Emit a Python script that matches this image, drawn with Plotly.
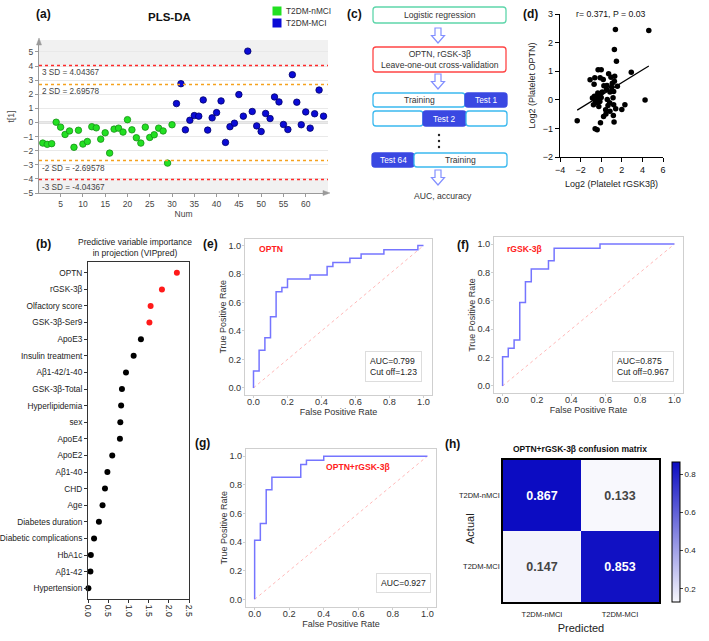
import plotly.graph_objects as go

W, H = 709, 641
FONT = "Arial, Liberation Sans, sans-serif"


def fx(x):
    return x / W


def fy(y):
    return 1 - y / H


def dx(x0, x1):
    return [x0 / W, x1 / W]


def dy(y0, y1):
    return [1 - y1 / H, 1 - y0 / H]


# ---------------- data ----------------
# (a) PLS-DA scores
pls_num_nmci = list(range(1, 31))
pls_t1_nmci = [-1.46, -1.55, -1.50, 0.02, -0.33, -0.85, -0.60, -1.76, -0.55, -1.53,
               -1.35, -0.30, -0.38, -1.18, -0.73, -2.17, -0.47, -0.40, -0.68, 0.20,
               -0.52, -1.08, -1.46, -0.33, -1.06, -0.87, -0.40, -0.60, -2.88, -0.16]
pls_num_mci = list(range(31, 65))
pls_t1_mci = [1.34, 2.75, -0.52, 0.16, 0.49, 0.45, 1.60, -0.54, 0.33, 0.70,
              1.53, -1.41, -0.30, -0.05, 1.98, 0.45, 5.06, 0.78, -0.24, -0.64,
              0.64, 0.28, 1.81, 1.46, -0.14, -0.50, 3.39, 1.44, -0.16, 0.75,
              -0.40, 0.62, 2.30, 0.45]
sd2_val = 2.69578
sd3_val = 4.04367
pls_xticks = [5, 10, 15, 20, 25, 30, 35, 40, 45, 50, 55, 60]
pls_yticks = [-5, -4, -3, -2, -1, 0, 1, 2, 3, 4, 5]

# (b) VIP
vip_vars = ["OPTN", "rGSK-3β", "Olfactory score", "GSK-3β-Ser9", "ApoE3",
            "Insulin treatment", "Aβ1-42/1-40", "GSK-3β-Total", "Hyperlipidemia", "sex",
            "ApoE4", "ApoE2", "Aβ1-40", "CHD", "Age", "Diabetes duration",
            "Diabetic complications", "HbA1c", "Aβ1-42", "Hypertension"]
vip_vals = [2.20, 1.83, 1.55, 1.52, 1.31, 1.13, 0.94, 0.84, 0.82, 0.80,
            0.79, 0.60, 0.48, 0.42, 0.36, 0.27, 0.15, 0.07, 0.06, 0.01]
vip_threshold = 1.5
vip_xticks = [0.0, 0.5, 1.0, 1.5, 2.0, 2.5]

# (d) correlation scatter
corr_x = [1.38, 4.62, 1.28, 1.48, -0.30, 0.00, -1.08, -0.62, -0.69, -0.10,
          0.20, 0.72, 1.31, 2.92, 1.08, 1.28, 1.02, 1.57, 0.52, 0.26,
          0.85, 1.21, -0.43, -0.66, -0.26, -0.13, 0.00, -0.36, -0.75, -0.56,
          -0.13, 0.82, 1.15, 1.21, 0.59, 2.30, 2.00, 4.26, -2.33, -0.59,
          -0.39, -0.07, 1.25, 1.18, 0.46, 0.23, -0.23, 0.43, 0.85, 1.41,
          0.66, 0.10, 0.56, 0.95, -0.85, -0.33]
corr_y = [2.46, 2.42, 1.76, 1.35, 1.05, 1.05, 0.70, 0.77, 0.54, 0.77,
          0.71, 0.91, 0.82, 0.96, 0.58, 0.65, 0.44, 0.47, 0.36, 0.49,
          0.27, 0.29, 0.13, 0.12, 0.03, 0.15, 0.08, -0.10, -0.17, -0.06,
          -0.06, -0.10, 0.07, -0.17, 0.01, -0.17, -0.34, -0.01, -0.73, -1.01,
          -1.05, -0.80, -0.78, -0.55, -0.50, -0.58, -0.23, -0.35, -0.40, -0.31,
          -0.20, 0.27, 0.50, 0.79, 0.06, 0.24]
fit_slope = 0.222
fit_intercept = 0.156

# (e)-(g) ROC curves
roc_optn_fpr = [0, 0, 0.033, 0.033, 0.067, 0.067, 0.1, 0.1, 0.133, 0.133, 0.167, 0.167,
                0.2, 0.2, 0.333, 0.333, 0.433, 0.433, 0.467, 0.467, 0.567, 0.567,
                0.633, 0.633, 0.767, 0.767, 0.967, 0.967, 1.0]
roc_optn_tpr = [0, 0.118, 0.118, 0.265, 0.265, 0.353, 0.353, 0.5, 0.5, 0.676, 0.676, 0.706,
                0.706, 0.765, 0.765, 0.794, 0.794, 0.853, 0.853, 0.882, 0.882, 0.912,
                0.912, 0.941, 0.941, 0.971, 0.971, 1.0, 1.0]
roc_rgsk_fpr = [0, 0, 0.033, 0.033, 0.067, 0.067, 0.1, 0.1, 0.133, 0.133, 0.167, 0.167,
                0.267, 0.267, 0.3, 0.3, 0.567, 0.567, 1.0]
roc_rgsk_tpr = [0, 0.206, 0.206, 0.265, 0.265, 0.324, 0.324, 0.588, 0.588, 0.735, 0.735,
                0.824, 0.824, 0.882, 0.882, 0.971, 0.971, 1.0, 1.0]
roc_comb_fpr = [0, 0, 0.033, 0.033, 0.067, 0.067, 0.1, 0.1, 0.267, 0.267, 0.3, 0.3,
                0.4, 0.4, 1.0]
roc_comb_tpr = [0, 0.412, 0.412, 0.529, 0.529, 0.765, 0.765, 0.853, 0.853, 0.941, 0.941,
                0.971, 0.971, 1.0, 1.0]
roc_ticks = [0.0, 0.2, 0.4, 0.6, 0.8, 1.0]

# (h) confusion matrix
cm_classes = ["T2DM-nMCI", "T2DM-MCI"]
cm_values = [[0.867, 0.133],
             [0.147, 0.853]]
cm_cbar_ticks = [0.2, 0.4, 0.6, 0.8]

# ---------------- figure ----------------
fig = go.Figure()

GREEN = "#22e022"
BLUE = "#0b0bd6"

# (a)
fig.add_trace(go.Scatter(x=pls_num_nmci, y=pls_t1_nmci, mode="markers", xaxis="x", yaxis="y",
                         name="T2DM-nMCI",
                         marker=dict(size=6.5, color=GREEN, line=dict(color="#159015", width=0.8))))
fig.add_trace(go.Scatter(x=pls_num_mci, y=pls_t1_mci, mode="markers", xaxis="x", yaxis="y",
                         name="T2DM-MCI",
                         marker=dict(size=6.5, color=BLUE, line=dict(color="#00006a", width=0.8))))

# (d)
fig.add_trace(go.Scatter(x=corr_x, y=corr_y, mode="markers", xaxis="x2", yaxis="y2",
                         marker=dict(size=5.5, color="black")))
fit_x = [min(corr_x), max(corr_x)]
fit_y = [fit_slope * v + fit_intercept for v in fit_x]
fig.add_trace(go.Scatter(x=fit_x, y=fit_y, mode="lines", xaxis="x2", yaxis="y2",
                         line=dict(color="black", width=1.2)))

# (b)
vip_colors = ["#ff1a1a" if v > vip_threshold else "black" for v in vip_vals]
fig.add_trace(go.Scatter(x=vip_vals, y=vip_vars, mode="markers", xaxis="x3", yaxis="y3",
                         marker=dict(size=6, color=vip_colors), cliponaxis=False))

# ROC panels
ROC_LINE = "#7575ff"
DIAG = "#ffb8b8"
for fpr, tpr, xa, ya in [(roc_optn_fpr, roc_optn_tpr, "x4", "y4"),
                         (roc_rgsk_fpr, roc_rgsk_tpr, "x5", "y5"),
                         (roc_comb_fpr, roc_comb_tpr, "x6", "y6")]:
    fig.add_trace(go.Scatter(x=[0, 1], y=[0, 1], mode="lines", xaxis=xa, yaxis=ya,
                             line=dict(color=DIAG, width=1, dash="dot")))
    fig.add_trace(go.Scatter(x=fpr, y=tpr, mode="lines", xaxis=xa, yaxis=ya,
                             line=dict(color=ROC_LINE, width=1.5)))

# (h)
fig.add_trace(go.Heatmap(
    z=cm_values, x=cm_classes, y=cm_classes, xaxis="x7", yaxis="y7",
    colorscale=[[0, "#f8f8fd"], [1, "#0c0cc2"]],
    texttemplate="<b>%{z:.3f}</b>", textfont=dict(size=12.5, family=FONT),
    xgap=0, ygap=0,
    colorbar=dict(x=fx(672), xanchor="left", y=fy(531.5), yanchor="middle",
                  len=(601.5 - 461.5) / H, lenmode="fraction", thickness=8,
                  outlinewidth=1, outlinecolor="black", tickvals=cm_cbar_ticks,
                  ticks="outside", ticklen=3, tickfont=dict(size=8, color="#222"),
                  xpad=0, ypad=0),
))

# ---------------- axes ----------------
grey_ax = dict(showline=True, linecolor="#9a9a9a", linewidth=1, ticks="outside", ticklen=3,
               tickcolor="#9a9a9a", tickfont=dict(size=8.5, color="#444"), zeroline=False,
               automargin=False)
prism_ax = dict(showline=True, linecolor="black", linewidth=1.4, ticks="outside", ticklen=4,
                tickwidth=1.4, tickcolor="black", tickfont=dict(size=9, color="#111"),
                showgrid=False, zeroline=False, automargin=False)
roc_ax = dict(showline=True, mirror=True, linecolor="#cfcfcf", linewidth=1, ticks="outside",
              ticklen=2, tickcolor="#cfcfcf", tickfont=dict(size=9.2, color="#333"),
              showgrid=False, zeroline=False, range=[-0.05, 1.05], tickvals=roc_ticks,
              tickformat=".1f", automargin=False)
roc_title = dict(size=9, color="#333")

layout_axes = dict(
    xaxis=dict(domain=dx(39, 328), anchor="y", range=[0.15, 65], tickvals=pls_xticks,
               showgrid=False, title=dict(text="Num", font=dict(size=8.5, color="#444"), standoff=2),
               **grey_ax),
    yaxis=dict(domain=dy(40, 193), anchor="x", range=[-5, 5.85], tickvals=pls_yticks,
               showgrid=True, gridcolor="#e9e9e9",
               title=dict(text="t[1]", font=dict(size=8.5, color="#444"), standoff=7),
               **grey_ax),
    xaxis2=dict(domain=dx(560, 663), anchor="y2", range=[-4, 6], tickvals=[-4, -2, 0, 2, 4, 6],
                title=dict(text="Log2 (Platelet rGSK3β)", font=dict(size=9), standoff=6),
                **prism_ax),
    yaxis2=dict(domain=dy(14, 157), anchor="x2", range=[-2, 3], tickvals=[-2, -1, 0, 1, 2, 3],
                title=dict(text="Log2 (Platelet OPTN)", font=dict(size=9), standoff=5),
                **prism_ax),
    xaxis3=dict(domain=dx(88, 189), anchor="y3", range=[0, 2.5], tickvals=vip_xticks,
                tickformat=".1f", tickangle=90, showline=True, mirror=True, linecolor="#333",
                linewidth=1, ticks="outside", ticklen=3, tickcolor="#333",
                tickfont=dict(size=8.6, color="#222"), showgrid=False, zeroline=False,
                automargin=False),
    yaxis3=dict(domain=dy(262, 599), anchor="x3", type="category", categoryorder="array",
                categoryarray=vip_vars, range=[len(vip_vars) - 1 + 0.65, -0.65],
                showline=True, mirror=True, linecolor="#333", linewidth=1, ticks="outside",
                ticklen=3, tickcolor="#333", tickfont=dict(size=8.3, color="#222"),
                showgrid=False, zeroline=False, automargin=False),
    xaxis4=dict(domain=dx(245, 432), anchor="y4", ticklabelstandoff=-4,
                title=dict(text="False Positive Rate", font=roc_title, standoff=0), **roc_ax),
    yaxis4=dict(domain=dy(238.5, 395), anchor="x4", ticklabelstandoff=-1,
                title=dict(text="True Positive Rate", font=roc_title, standoff=0), **roc_ax),
    xaxis5=dict(domain=dx(494, 683), anchor="y5", ticklabelstandoff=-4,
                title=dict(text="False Positive Rate", font=roc_title, standoff=0), **roc_ax),
    yaxis5=dict(domain=dy(237, 393), anchor="x5", ticklabelstandoff=-1,
                title=dict(text="True Positive Rate", font=roc_title, standoff=0), **roc_ax),
    xaxis6=dict(domain=dx(246, 436), anchor="y6", ticklabelstandoff=-4,
                title=dict(text="False Positive Rate", font=roc_title, standoff=0), **roc_ax),
    yaxis6=dict(domain=dy(449, 606.5), anchor="x6", ticklabelstandoff=-1,
                title=dict(text="True Positive Rate", font=roc_title, standoff=0), **roc_ax),
    xaxis7=dict(domain=dx(503, 659), anchor="y7", showline=True, mirror=True, linecolor="black",
                linewidth=1.5, ticks="outside", ticklen=4, tickcolor="rgba(0,0,0,0)",
                tickfont=dict(size=7.5, color="#222"), automargin=False,
                title=dict(text="Predicted", font=dict(size=11, color="#222"), standoff=7)),
    yaxis7=dict(domain=dy(460, 602), anchor="x7", showline=True, mirror=True, linecolor="black",
                linewidth=1.5, ticks="", autorange="reversed", automargin=False,
                tickfont=dict(size=7.5, color="#222")),
)

# ---------------- shapes ----------------
shapes = []
# (a) grey bands + reference lines
shapes.append(dict(type="rect", xref="x domain", yref="y", x0=0, x1=1, y0=sd3_val, y1=5.85,
                   fillcolor="#f1f1f1", line=dict(width=0), layer="below"))
shapes.append(dict(type="rect", xref="x domain", yref="y", x0=0, x1=1, y0=-5, y1=-sd3_val,
                   fillcolor="#f1f1f1", line=dict(width=0), layer="below"))
shapes.append(dict(type="line", xref="x domain", yref="y", x0=0, x1=1, y0=0, y1=0,
                   line=dict(color="#c4c4c4", width=2), layer="below"))
for val, col in [(sd3_val, "#ff2a2a"), (-sd3_val, "#ff2a2a"),
                 (sd2_val, "#f5a21e"), (-sd2_val, "#f5a21e")]:
    shapes.append(dict(type="line", xref="x domain", yref="y", x0=0, x1=1, y0=val, y1=val,
                       line=dict(color=col, width=1.6, dash="dot")))


def poly(points, fill, line, width=1.2):
    p = "M " + " L ".join(f"{fx(a):.5f},{fy(b):.5f}" for a, b in points) + " Z"
    return dict(type="path", xref="paper", yref="paper", path=p, fillcolor=fill,
                line=dict(color=line, width=width))


# axis arrowheads (a)
shapes.append(poly([(36.5, 45), (41.5, 45), (39, 38)], "#9a9a9a", "#9a9a9a", 0.5))
shapes.append(poly([(323, 190.5), (323, 195.5), (330, 193)], "#9a9a9a", "#9a9a9a", 0.5))

# legend squares (a)
for yc, col in [(11, GREEN), (23, BLUE)]:
    shapes.append(dict(type="rect", xref="paper", yref="paper", x0=fx(272.5), x1=fx(281.5),
                       y0=fy(yc + 4.5), y1=fy(yc - 4.5), fillcolor=col, line=dict(width=0)))


def rrect(x0, y0, x1, y1, border, fill="white", r=3, width=1.3):
    def P(a, b):
        return f"{fx(a):.5f},{fy(b):.5f}"
    path = (f"M {P(x0 + r, y0)} L {P(x1 - r, y0)} Q {P(x1, y0)} {P(x1, y0 + r)} "
            f"L {P(x1, y1 - r)} Q {P(x1, y1)} {P(x1 - r, y1)} L {P(x0 + r, y1)} "
            f"Q {P(x0, y1)} {P(x0, y1 - r)} L {P(x0, y0 + r)} Q {P(x0, y0)} {P(x0 + r, y0)} Z")
    return dict(type="path", xref="paper", yref="paper", path=path, fillcolor=fill,
                line=dict(color=border, width=width))


def down_arrow(xc, y0, y1):
    yh = y0 + (y1 - y0) * 0.5
    return poly([(xc - 3, y0), (xc + 3, y0), (xc + 3, yh), (xc + 6.5, yh), (xc, y1),
                 (xc - 6.5, yh), (xc - 3, yh)], "white", "#8390ff", 1.2)


CYAN = "#3bb9ef"
FILL = "#3a48e2"
shapes += [
    rrect(373, 7, 506, 23, "#5fd6ab"),
    down_arrow(438, 28, 43),
    rrect(373, 47, 506, 72, "#ff4545"),
    down_arrow(438, 74, 89),
    rrect(373, 93, 465, 107, CYAN),
    rrect(465, 93, 507, 107, FILL, FILL),
    rrect(373, 111, 423, 126, CYAN),
    rrect(423, 111, 466, 126, FILL, FILL),
    rrect(466, 111, 507, 126, CYAN),
    rrect(372, 153, 414, 167, FILL, FILL),
    rrect(414, 153, 507, 167, CYAN),
    down_arrow(438, 170, 185),
]
for yd in [135, 141, 147]:
    shapes.append(dict(type="circle", xref="paper", yref="paper", x0=fx(437.8), x1=fx(440.2),
                       y0=fy(yd + 1.2), y1=fy(yd - 1.2), fillcolor="#222", line=dict(width=0)))

# ---------------- annotations ----------------
ann = []


def A(x, y, text, size=10, color="#222", bold=False, xanchor="center", yanchor="middle", **kw):
    t = f"<b>{text}</b>" if bold else text
    ann.append(dict(x=fx(x), y=fy(y), xref="paper", yref="paper", text=t, showarrow=False,
                    xanchor=xanchor, yanchor=yanchor,
                    font=dict(size=size, color=color, family=FONT), **kw))


for lab, x, y in [("(a)", 43, 14), ("(b)", 43, 244), ("(c)", 354, 14), ("(d)", 530, 14),
                  ("(e)", 210, 244), ("(f)", 463, 245), ("(g)", 202, 443), ("(h)", 452, 444)]:
    A(x, y, lab, size=12, color="#111", bold=True)

A(169, 17, "PLS-DA", size=11.5, color="#111", bold=True)
A(284, 11, "T2DM-nMCI", size=8.3, color="#333", xanchor="left")
A(284, 23, "T2DM-MCI", size=8.3, color="#333", xanchor="left")

# SD labels (data coords of panel a)
for val, txt in [(sd3_val, "3 SD = 4.04367"), (sd2_val, "2 SD = 2.69578"),
                 (-sd2_val, "-2 SD = -2.69578"), (-sd3_val, "-3 SD = -4.04367")]:
    ann.append(dict(x=0.35, y=val, xref="x", yref="y", text=txt, showarrow=False,
                    xanchor="left", yanchor="top", yshift=-1,
                    font=dict(size=8.2, color="#444", family=FONT)))

# (d) title
A(611, 14, "r= 0.371, P = 0.03", size=8.7, color="#111")

# (b) title
A(135, 247.5, "Predictive variable importance<br>in projection (VIPpred)", size=8.5, color="#222")

# flowchart texts
A(439.5, 15, "Logistic regression", size=8.6, color="#333")
A(439.5, 59.5, "OPTN, rGSK-3β<br>Leave-one-out cross-validation", size=8.6, color="#333")
A(419, 100, "Training", size=8.6, color="#333")
A(486, 100, "Test 1", size=8.3, color="white")
A(444.5, 118.5, "Test 2", size=8.3, color="white")
A(393, 160, "Test 64", size=8.3, color="white")
A(460.5, 160, "Training", size=8.6, color="#333")
A(443, 196, "AUC, accuracy", size=8.6, color="#333")

# ROC inner labels
RED = "#ff2020"
for xr, yr, x, y, txt in [("x4", "y4", 0.02, 0.975, "OPTN"),
                          ("x5", "y5", 0.012, 0.965, "rGSK-3β"),
                          ("x6", "y6", 0.40, 0.925, "OPTN+rGSK-3β")]:
    ann.append(dict(x=x, y=y, xref=xr, yref=yr, text=f"<b>{txt}</b>", showarrow=False,
                    xanchor="left", yanchor="middle",
                    font=dict(size=8.6, color=RED, family=FONT)))
for xr, yr, x, y, txt in [("x4", "y4", 0.99, 0.04, "AUC=0.799<br>Cut off=1.23"),
                          ("x5", "y5", 1.0, 0.026, "AUC=0.875<br>Cut off=0.967"),
                          ("x6", "y6", 1.02, 0.044, "AUC=0.927")]:
    ann.append(dict(x=x, y=y, xref=xr, yref=yr, text=txt, showarrow=False, align="left",
                    xanchor="right", yanchor="bottom", bordercolor="#dddddd", borderwidth=1,
                    borderpad=4, bgcolor="white",
                    font=dict(size=8.6, color="#222", family=FONT)))

# (h) title and y-axis title
A(580, 449, "OPTN+rGSK-3β confusion matrix", size=8.5, color="#111", bold=True)
A(470, 529, "Actual", size=11, color="#222", textangle=-90)

fig.update_layout(
    width=W, height=H, margin=dict(l=0, r=0, t=0, b=0),
    paper_bgcolor="white", plot_bgcolor="white",
    font=dict(family=FONT, size=10, color="#222"),
    showlegend=False,
    shapes=shapes, annotations=ann,
    **layout_axes,
)

fig.write_html("out.html", config={"displayModeBar": False},
               post_script="document.body.style.margin='0';document.body.style.overflow='hidden';")
